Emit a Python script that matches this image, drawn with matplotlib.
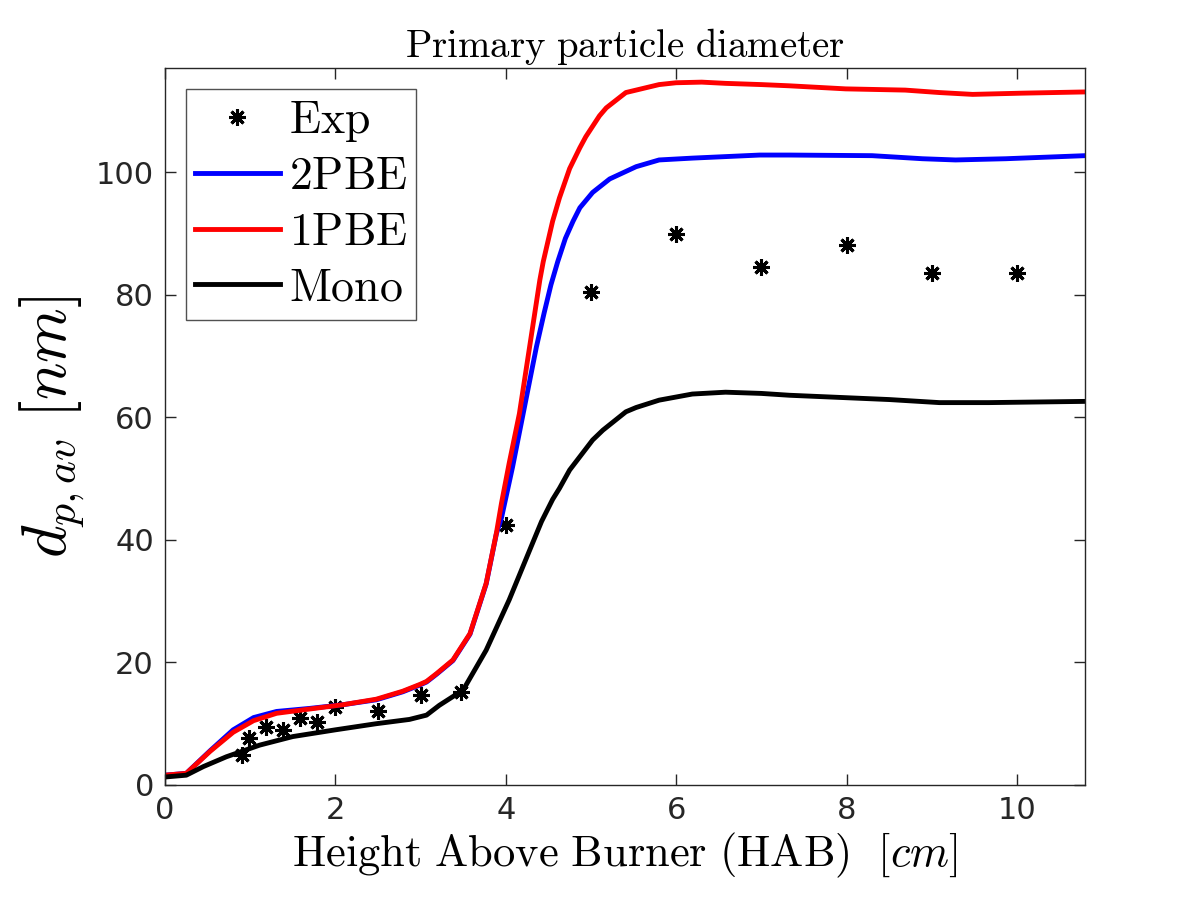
import matplotlib
matplotlib.use("Agg")
import matplotlib.pyplot as plt

# Experimental points
exp_x = [0.90, 0.99, 1.19, 1.39, 1.59, 1.79, 2.0, 2.5, 3.0, 3.48, 4.0, 5.0, 6.0, 7.0, 8.0, 9.0, 10.0]
exp_y = [4.9, 7.6, 9.5, 8.9, 11.0, 10.3, 12.8, 12.0, 14.7, 15.1, 42.4, 80.4, 89.9, 84.5, 88.1, 83.5, 83.5]

# 2PBE model
pbe2_x = [0.0, 0.25, 0.53, 0.80, 1.04, 1.31, 1.70, 2.09, 2.48, 2.79, 2.99, 3.07, 3.19, 3.38,
          3.58, 3.77, 3.89, 3.95, 4.08, 4.22, 4.36, 4.45, 4.53, 4.61, 4.70, 4.79, 4.87, 5.02,
          5.22, 5.53, 5.80, 6.19, 6.98, 7.33, 8.30, 8.89, 9.28, 9.87, 10.8]
pbe2_y = [1.6, 1.9, 5.6, 9.0, 11.0, 12.0, 12.5, 13.1, 13.9, 15.2, 16.3, 16.8, 18.1, 20.3,
          24.6, 32.8, 41.0, 43.6, 51.9, 61.7, 71.5, 77.0, 81.6, 85.4, 89.2, 92.0, 94.2, 96.7,
          98.9, 100.9, 102.0, 102.3, 102.8, 102.8, 102.7, 102.2, 102.0, 102.2, 102.7]

# 1PBE model
pbe1_x = [0.0, 0.25, 0.53, 0.80, 1.04, 1.31, 1.70, 2.09, 2.48, 2.79, 2.99, 3.07, 3.19, 3.38,
          3.58, 3.77, 3.89, 3.95, 4.04, 4.16, 4.28, 4.40, 4.44, 4.55, 4.63, 4.75, 4.87, 4.94,
          5.10, 5.18, 5.41, 5.80, 6.0, 6.3, 6.58, 7.0, 7.33, 7.99, 8.69, 9.09, 9.48, 10.06, 10.8]
pbe1_y = [1.6, 1.9, 5.5, 8.6, 10.5, 11.7, 12.4, 13.1, 14.0, 15.3, 16.4, 16.9, 18.2, 20.4,
          24.7, 32.9, 41.1, 46.0, 52.5, 60.6, 71.5, 82.4, 85.4, 92.0, 95.8, 100.6, 104.0, 105.8,
          109.2, 110.5, 113.0, 114.3, 114.6, 114.7, 114.5, 114.3, 114.1, 113.6, 113.4, 113.0,
          112.7, 112.9, 113.1]

# Mono model
mono_x = [0.0, 0.25, 0.45, 0.72, 1.11, 1.50, 2.0, 2.48, 2.87, 3.07, 3.22, 3.50, 3.77, 4.04,
          4.28, 4.42, 4.55, 4.63, 4.75, 5.02, 5.14, 5.41, 5.53, 5.80, 6.19, 6.58, 7.0, 7.33,
          8.50, 9.09, 9.67, 10.8]
mono_y = [1.3, 1.6, 3.0, 4.6, 6.5, 7.9, 9.0, 10.0, 10.7, 11.4, 13.0, 15.5, 22.0, 30.2,
          38.3, 43.0, 46.6, 48.4, 51.4, 56.3, 57.9, 60.9, 61.6, 62.8, 63.8, 64.1, 63.9, 63.6,
          62.9, 62.4, 62.4, 62.6]

x_ticks = [0, 2, 4, 6, 8, 10]
y_ticks = [0, 20, 40, 60, 80, 100]

plt.rcParams["mathtext.fontset"] = "cm"
tick_color = "#262626"

fig = plt.figure(figsize=(12, 9), dpi=100)
ax = fig.add_axes([0.1375, 0.1278, 0.7667, 0.7966])

ax.plot(exp_x, exp_y, linestyle="none", marker=(8, 2, 0), markersize=12,
        markeredgewidth=2.2, color="black", label=r"$\mathrm{Exp}$")
ax.plot(pbe2_x, pbe2_y, color="#0000ff", linewidth=3.5, label=r"$\mathrm{2PBE}$")
ax.plot(pbe1_x, pbe1_y, color="#ff0000", linewidth=3.5, label=r"$\mathrm{1PBE}$")
ax.plot(mono_x, mono_y, color="black", linewidth=3.5, label=r"$\mathrm{Mono}$")

ax.set_xlim(0, 10.8)
ax.set_ylim(0, 117)
ax.set_xticks(x_ticks)
ax.set_yticks(y_ticks)
ax.tick_params(direction="in", top=True, right=True, length=8, width=1.0,
               labelsize=22, colors=tick_color, pad=8)
for s in ax.spines.values():
    s.set_color(tick_color)
    s.set_linewidth(1.0)

ax.set_title(r"$\mathrm{Primary\ particle\ diameter}$", fontsize=28, pad=8)
ax.set_xlabel(r"$\mathrm{Height\ Above\ Burner\ (HAB)}\ \ [cm]$", fontsize=32, labelpad=4)
ax.set_ylabel(r"$d_{p,av}\ [nm]$", fontsize=45, labelpad=6)

leg = ax.legend(loc="upper left", fontsize=33, frameon=True, fancybox=False,
                edgecolor="#262626", handlelength=1.85, handletextpad=0.2,
                borderpad=0.2, labelspacing=0.23, borderaxespad=0.45)
leg.get_frame().set_linewidth(1.0)

fig.savefig("out.png", dpi=100)
